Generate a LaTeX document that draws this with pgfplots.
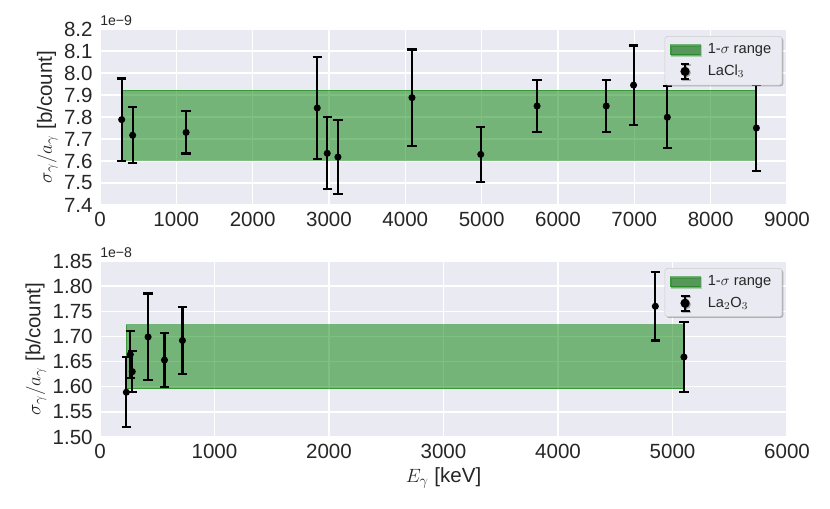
\documentclass[border=0pt]{standalone}
\usepackage{pgfplots}
\pgfplotsset{compat=1.18}
\usepackage{pgfplotstable}
\usepackage{fontspec}
\setmainfont{Liberation Sans}
\usetikzlibrary{shadows}
\definecolor{bgc}{HTML}{EAEAF2}
\definecolor{txt}{HTML}{262626}
\definecolor{bandg}{rgb}{0,0.5,0}

\pgfplotstableread{
x y e
284 7.788 0.187
428 7.717 0.128
1128 7.730 0.096
2846 7.841 0.230
2977 7.635 0.164
3117 7.618 0.168
4087 7.888 0.219
4988 7.630 0.125
5726 7.850 0.118
6632 7.850 0.119
6990 7.945 0.180
7432 7.799 0.140
8599 7.750 0.195
}\lacl

\pgfplotstableread{
x y e
230 1.589 0.0695
265 1.664 0.0465
282 1.630 0.0405
420 1.699 0.0865
563 1.653 0.0535
720 1.692 0.0665
4850 1.760 0.068
5100 1.659 0.0695
}\laox

\pgfplotsset{
  sb/.style={
    scale only axis, width=515.25pt, height=132pt,
    clip mode=individual,
    axis background/.style={fill=bgc},
    axis line style={draw=none},
    tick style={draw=none},
    grid=major,
    major grid style={white, line width=1.1pt},
    ticklabel style={font=\fontsize{15.4}{18}\selectfont, text=txt},
    yticklabel style={xshift=-2pt},
    xticklabel style={yshift=-2pt},
    label style={font=\fontsize{15.4}{18}\selectfont, text=txt},
    /pgf/number format/assume math mode=true,
    ylabel={$\sigma_\gamma/a_\gamma$ [b/count]},
    ylabel shift=-2pt,
    legend style={at={(rel axis cs:0.993,0.96)}, anchor=north east,
      fill=bgc, draw=black!20, rounded corners=2pt,
      font=\fontsize{11}{13}\selectfont, text=txt,
      drop shadow={shadow xshift=1pt, shadow yshift=-1pt, fill=black, opacity=0.25},
      row sep=3pt, inner xsep=3pt, inner ysep=3.5pt,
      nodes={inner xsep=5pt}},
    legend cell align=left,
  },
  bandleg/.style={
    legend image code/.code={
      \draw[sharp corners, fill=bandg, fill opacity=0.5, draw=bandg, draw opacity=0.5, line width=0.6pt]
        (0pt,-3.75pt) rectangle (22.5pt,3.75pt);
    }
  },
  errleg/.style={
    legend image code/.code={
      \draw[sharp corners, black, line width=1.5pt] (11.25pt,-5.6pt)--(11.25pt,5.6pt)
        (7.9pt,-5.6pt)--(14.6pt,-5.6pt) (7.9pt,5.6pt)--(14.6pt,5.6pt);
      \fill[black] (11.25pt,0) circle (2.6pt);
      \path (0pt,0) (22.5pt,0);
    }
  },
  errplot/.style={
    only marks, black, line width=1.6pt, mark=*, mark size=1.8pt,
    mark options={solid, line width=1.6pt},
    error bars/.cd, y dir=both, y explicit,
    error bar style={line width=1.6pt, black, solid},
    error mark options={rotate=90, mark size=3.5pt, line width=1.6pt, black, solid},
    /pgfplots/.cd,
  },
}

\begin{document}
\begin{tikzpicture}
\useasboundingbox (-75pt,-228pt) rectangle (547.5pt,153.75pt);
\begin{axis}[sb,
  xmin=0, xmax=9000, ymin=7.4, ymax=8.2,
  xtick={0,1000,...,9000},
  ytick={7.4,7.5,7.6,7.7,7.8,7.9,8.0,8.1,8.2},
  yticklabel style={/pgf/number format/.cd, fixed, fixed zerofill, precision=1},
  xticklabel style={/pgf/number format/.cd, set thousands separator={}},
]
\addplot[fill=bandg, fill opacity=0.5, draw=bandg, draw opacity=0.5, line width=0.8pt, bandleg]
  coordinates {(284,7.603) (8599,7.603) (8599,7.921) (284,7.921)} -- cycle;
\addlegendentry{1-$\sigma$ range}
\addplot[errleg, errplot] table[x=x, y=y, y error=e] {\lacl};
\addlegendentry{LaCl$_3$}
\node[anchor=south west, inner sep=0pt, font=\fontsize{10.6}{13}\selectfont, text=txt] at (rel axis cs:0,1.015) {1e−9};
\end{axis}
\begin{axis}[sb, at={(0,-174pt)},
  xmin=0, xmax=6000, ymin=1.5, ymax=1.85,
  xtick={0,1000,...,6000},
  ytick={1.5,1.55,1.6,1.65,1.7,1.75,1.8,1.85},
  yticklabel style={/pgf/number format/.cd, fixed, fixed zerofill, precision=2},
  xticklabel style={/pgf/number format/.cd, set thousands separator={}},
  xlabel={$E_\gamma$ [keV]},
]
\addplot[fill=bandg, fill opacity=0.5, draw=bandg, draw opacity=0.5, line width=0.8pt, bandleg]
  coordinates {(230,1.596) (5100,1.596) (5100,1.723) (230,1.723)} -- cycle;
\addlegendentry{1-$\sigma$ range}
\addplot[errleg, errplot] table[x=x, y=y, y error=e] {\laox};
\addlegendentry{La$_2$O$_3$}
\node[anchor=south west, inner sep=0pt, font=\fontsize{10.6}{13}\selectfont, text=txt] at (rel axis cs:0,1.015) {1e−8};
\end{axis}
\end{tikzpicture}
\end{document}
